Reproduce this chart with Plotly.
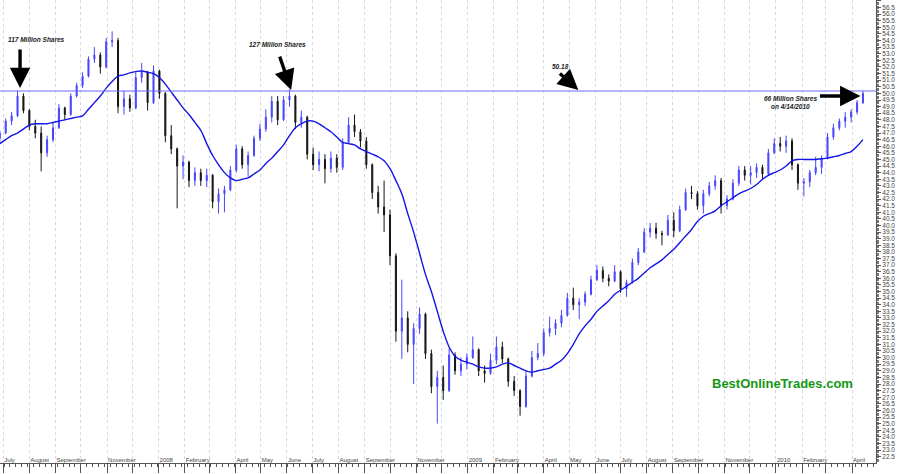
import pandas as pd
import plotly.graph_objects as go

# ---------------- data (weekly bars) ----------------
first_week = "2007-06-27"
n_weeks = 147
week_dates = pd.date_range(first_week, periods=n_weeks, freq="7D")

opens = [46.6, 47.0, 47.9, 48.3, 49.8, 48.7, 47.5, 47.0, 45.5, 46.5,
         47.4, 48.9, 48.4, 49.8, 50.6, 51.3, 52.6, 52.9, 52.0, 53.9,
         54.0, 49.0, 49.6, 48.9, 51.2, 51.6, 49.3, 51.7, 50.0, 46.8,
         45.8, 44.5, 44.8, 43.4, 44.0, 43.4, 43.8, 41.8, 42.4, 42.7,
         44.2, 45.8, 44.6, 45.3, 46.6, 47.3, 48.2, 49.4, 48.0, 49.5,
         49.8, 47.8, 48.2, 45.4, 44.6, 45.0, 44.3, 45.1, 44.4, 46.3,
         47.6, 47.1, 46.4, 44.6, 42.5, 41.4, 40.8, 37.7, 32.0, 33.0,
         31.0, 32.2, 33.3, 30.3, 27.8, 28.5, 27.5, 30.2, 29.0, 29.5,
         30.0, 30.6, 29.0, 28.8, 29.8, 30.8, 29.9, 28.2, 27.5, 26.3,
         28.6, 30.0, 30.3, 31.9, 32.2, 32.6, 33.2, 34.5, 34.0, 34.2,
         34.8, 35.9, 36.6, 36.0, 35.8, 36.5, 35.2, 35.7, 37.2, 38.0,
         39.5, 39.8, 39.4, 39.3, 40.4, 39.6, 41.2, 42.5, 42.4, 41.5,
         42.4, 43.0, 43.4, 41.5, 42.0, 43.2, 44.2, 43.8, 44.0, 44.4,
         43.9, 45.5, 46.2, 46.0, 46.4, 44.6, 43.2, 43.3, 44.0, 44.4,
         45.1, 46.7, 47.4, 47.9, 48.2, 48.6, 49.3]
highs = [47.2, 48.1, 48.6, 50.2, 50.0, 48.8, 48.0, 47.5, 46.8, 47.8,
         49.2, 49.0, 50.0, 50.8, 51.6, 52.8, 53.5, 53.1, 54.2, 54.7,
         54.2, 50.2, 49.9, 51.6, 52.3, 51.7, 52.1, 51.8, 50.1, 47.6,
         45.9, 45.3, 44.9, 44.4, 44.3, 44.3, 43.9, 42.8, 43.0, 44.5,
         46.1, 46.0, 45.6, 46.8, 47.7, 48.8, 49.8, 49.8, 49.8, 50.3,
         49.9, 48.7, 48.3, 45.9, 45.6, 45.4, 45.6, 45.4, 46.6, 48.2,
         48.4, 47.3, 46.7, 44.7, 43.0, 43.4, 41.2, 37.9, 35.9, 33.5,
         32.6, 33.8, 33.4, 30.6, 29.0, 29.4, 30.7, 30.4, 30.0, 30.3,
         31.6, 30.7, 29.4, 30.3, 31.6, 31.2, 30.0, 28.6, 27.6, 29.0,
         30.5, 31.1, 32.2, 33.1, 32.9, 33.6, 34.9, 35.3, 34.5, 35.0,
         36.2, 37.0, 36.9, 36.3, 37.0, 36.6, 35.9, 37.5, 38.3, 39.8,
         40.2, 40.2, 39.6, 40.8, 41.0, 41.5, 42.8, 43.0, 42.6, 42.7,
         43.3, 43.8, 43.6, 42.3, 43.5, 44.5, 44.5, 44.5, 44.7, 44.6,
         45.8, 46.6, 46.7, 46.8, 46.6, 44.7, 43.6, 44.2, 45.2, 45.3,
         47.0, 47.7, 48.1, 48.6, 48.8, 49.5, 50.2]
lows = [46.3, 46.9, 47.6, 48.2, 48.5, 47.2, 46.6, 44.1, 45.2, 46.3,
        47.3, 48.0, 48.3, 49.7, 50.4, 51.2, 52.3, 51.5, 51.9, 53.5,
        48.5, 48.4, 48.6, 48.8, 50.8, 48.7, 49.2, 49.6, 46.3, 45.4,
        41.3, 43.5, 42.9, 43.0, 43.0, 42.9, 41.3, 40.9, 41.0, 42.6,
        44.0, 44.3, 43.7, 45.2, 46.4, 47.1, 47.8, 47.6, 47.9, 49.0,
        47.3, 47.4, 45.0, 44.2, 44.1, 43.2, 44.0, 44.0, 44.2, 46.2,
        46.7, 45.9, 44.3, 42.0, 40.9, 39.5, 37.0, 31.2, 29.9, 30.4,
        28.0, 31.8, 29.9, 27.3, 25.0, 26.8, 27.4, 28.7, 28.6, 29.1,
        29.9, 28.6, 28.1, 28.7, 29.5, 29.6, 27.8, 27.1, 25.6, 26.2,
        28.5, 29.8, 30.1, 31.6, 31.7, 32.3, 33.1, 33.6, 32.9, 33.9,
        34.7, 35.8, 35.7, 35.4, 35.7, 34.9, 34.6, 35.6, 37.0, 37.9,
        39.1, 39.0, 38.5, 39.2, 39.1, 39.5, 41.1, 42.0, 41.2, 40.9,
        42.2, 42.7, 40.9, 41.2, 41.9, 43.0, 43.4, 43.1, 43.6, 43.5,
        43.8, 45.4, 45.6, 45.5, 44.2, 42.7, 42.2, 42.9, 43.8, 43.9,
        45.0, 46.5, 47.2, 47.4, 47.8, 48.4, 49.2]
closes = [47.0, 47.9, 48.3, 49.8, 48.7, 47.5, 47.0, 45.5, 46.5, 47.4,
          48.9, 48.4, 49.8, 50.6, 51.3, 52.6, 52.9, 52.0, 53.9, 54.0,
          49.0, 49.6, 48.9, 51.2, 51.6, 49.3, 51.7, 50.0, 46.8, 45.8,
          44.5, 44.8, 43.4, 44.0, 43.4, 43.8, 41.8, 42.4, 42.7, 44.2,
          45.8, 44.6, 45.3, 46.6, 47.3, 48.2, 49.4, 48.0, 49.5, 49.8,
          47.8, 48.2, 45.4, 44.6, 45.0, 44.3, 45.1, 44.4, 46.3, 47.6,
          47.1, 46.4, 44.6, 42.5, 41.4, 40.8, 37.7, 32.0, 33.0, 31.0,
          32.2, 33.3, 30.3, 27.8, 28.5, 27.5, 30.2, 29.0, 29.5, 30.0,
          30.6, 29.0, 28.8, 29.8, 30.8, 29.9, 28.2, 27.5, 26.3, 28.6,
          30.0, 30.3, 31.9, 32.2, 32.6, 33.2, 34.5, 34.0, 34.2, 34.8,
          35.9, 36.6, 36.0, 35.8, 36.5, 35.2, 35.7, 37.2, 38.0, 39.5,
          39.8, 39.4, 39.3, 40.4, 39.6, 41.2, 42.5, 42.4, 41.5, 42.4,
          43.0, 43.4, 41.5, 42.0, 43.2, 44.2, 43.8, 44.0, 44.4, 43.9,
          45.5, 46.2, 46.0, 46.4, 44.6, 43.2, 43.3, 44.0, 44.4, 45.1,
          46.7, 47.4, 47.9, 48.2, 48.6, 49.3, 50.0]
moving_avg = [46.2, 46.5, 46.8, 47.0, 47.3, 47.6, 47.7, 47.7, 47.7, 47.8,
              47.9, 48.0, 48.1, 48.2, 48.3, 48.8, 49.3, 49.8, 50.4, 50.9,
              51.3, 51.4, 51.55, 51.65, 51.7, 51.6, 51.5, 51.2, 50.7, 50.1,
              49.5, 48.9, 48.4, 47.8, 47.2, 46.2, 45.3, 44.6, 44.0, 43.6,
              43.4, 43.5, 43.6, 43.9, 44.2, 44.7, 45.1, 45.6, 46.1, 46.8,
              47.4, 47.7, 47.9, 47.9, 47.7, 47.4, 47.1, 46.7, 46.3, 46.2,
              46.1, 45.8, 45.6, 45.4, 45.2, 44.9, 44.3, 43.4, 42.4, 40.9,
              39.5, 37.9, 36.3, 35.0, 33.5, 32.0, 30.8, 30.1, 29.8, 29.65,
              29.5, 29.3, 29.2, 29.2, 29.3, 29.5, 29.6, 29.4, 29.2, 29.0,
              28.9, 29.0, 29.1, 29.2, 29.5, 29.8, 30.3, 31.0, 31.8, 32.4,
              32.9, 33.5, 33.9, 34.3, 34.8, 35.1, 35.4, 35.7, 36.0, 36.4,
              36.8, 37.1, 37.4, 37.8, 38.2, 38.7, 39.2, 39.7, 40.3, 40.7,
              40.9, 41.1, 41.5, 41.8, 42.1, 42.4, 42.6, 42.8, 43.1, 43.5,
              43.8, 44.0, 44.2, 44.5, 44.9, 45.0, 45.0, 45.0, 45.0, 45.05,
              45.1, 45.2, 45.3, 45.45, 45.6, 46.0, 46.5]

resistance_level = 50.18

month_ticks = pd.date_range("2007-07-01", "2010-04-01", freq="MS")
month_labels = ["July", "August", "September", "", "November", "",
                "2008", "February", "", "April", "May", "June",
                "July", "August", "September", "", "November", "",
                "2009", "February", "", "April", "May", "June",
                "July", "August", "September", "", "November", "",
                "2010", "February", "", "April"]

# ---------------- figure ----------------
FONT = "Liberation Sans"
fig = go.Figure()

fig.add_trace(go.Candlestick(
    x=week_dates, open=opens, high=highs, low=lows, close=closes,
    increasing=dict(line=dict(color="#4646ff", width=1), fillcolor="#4646ff"),
    decreasing=dict(line=dict(color="#151515", width=1), fillcolor="#151515"),
    whiskerwidth=0, showlegend=False, hoverinfo="skip",
))

fig.add_trace(go.Scatter(
    x=week_dates, y=moving_avg, mode="lines",
    line=dict(color="#1414e6", width=1.4, shape="spline"),
    showlegend=False, hoverinfo="skip",
))

fig.add_hline(y=resistance_level, line=dict(color="#6a6aff", width=1))

ann_font = dict(family=FONT, size=6.5, color="#1a1a1a")


def label(text, px, py, anchor="center"):
    fig.add_annotation(text="<b><i>%s</i></b>" % text, xref="paper", yref="paper",
                       x=px / 876, y=1 - py / 463, xanchor=anchor, yanchor="middle",
                       showarrow=False, font=ann_font)


def arrow(x, y, ax, ay):
    fig.add_annotation(text="", x=x, y=y, xref="x", yref="y", ax=ax, ay=ay,
                       showarrow=True, arrowhead=2, arrowsize=1.2, arrowwidth=3.4,
                       arrowcolor="#000000")


label("117 Million Shares", 6, 40, "left")
arrow("2007-07-21", 50.4, 0, -40)
label("127 Million Shares", 247, 44, "left")
arrow("2008-06-06", 50.25, -12, -35)
label("50.18", 560, 67)
arrow("2009-05-12", 50.25, -20, -18)
label("66 Million Shares", 790, 98.5)
label("on 4/14/2010", 790, 106.5)
arrow("2010-04-11", 49.8, -42, 0)

fig.add_annotation(text="<b>BestOnlineTrades.com</b>", xref="paper", yref="paper",
                   x=782 / 876, y=1 - 383 / 463, xanchor="center", yanchor="middle",
                   showarrow=False,
                   font=dict(family=FONT, size=13, color="#149614"))

fig.update_layout(
    width=900, height=474,
    margin=dict(l=0, r=24, t=0, b=11, pad=0),
    paper_bgcolor="white", plot_bgcolor="white",
    boxgap=0.75,
    font=dict(family=FONT, size=6.5, color="#444"),
    xaxis=dict(
        type="date", range=["2007-06-27 06:00", "2010-04-29 10:00"],
        rangeslider=dict(visible=False),
        tickmode="array", tickvals=month_ticks, ticktext=month_labels,
        tickangle=0,
        ticklabelposition="outside right", ticklabelstandoff=-9,
        ticks="outside", ticklen=9, tickcolor="#555", tickwidth=1,
        tickfont=dict(family=FONT, size=6, color="#444"),
        showgrid=True, gridcolor="#d6d6e4", griddash="dot", gridwidth=1,
        showline=True, linecolor="#555", linewidth=1,
        minor=dict(ticks="outside", ticklen=3, tickcolor="#555",
                   dtick=7 * 24 * 3600 * 1000, tick0="2007-07-02", showgrid=False),
        zeroline=False, fixedrange=True,
    ),
    yaxis=dict(
        side="right", range=[22.02, 57.07],
        tickmode="linear", tick0=0, dtick=0.5, tickformat=".1f",
        ticks="outside", ticklen=4, tickcolor="#555",
        tickfont=dict(family=FONT, size=6.5, color="#444"),
        minor=dict(ticks="outside", ticklen=2, dtick=0.1, tickcolor="#777", showgrid=False),
        showgrid=False, zeroline=False,
        showline=True, linecolor="#555", linewidth=1,
    ),
)

fig.write_html("out.html")
